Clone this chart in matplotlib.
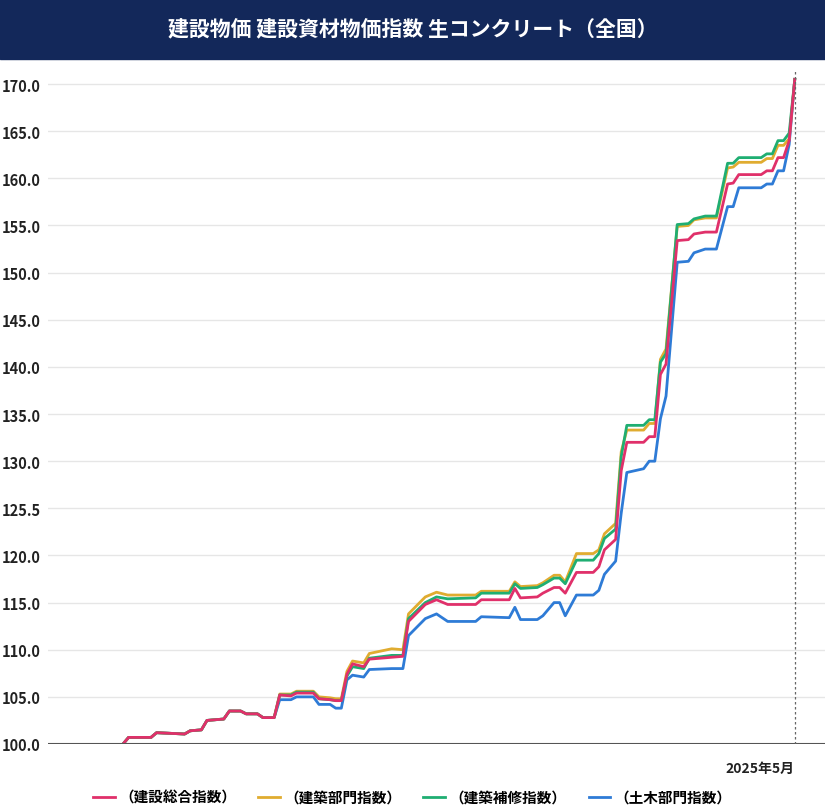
import matplotlib
matplotlib.use("Agg")
import matplotlib.pyplot as plt

plt.rcParams["font.family"] = ["Noto Sans CJK JP", "DejaVu Sans"]

title = "建設物価 建設資材物価指数 生コンクリート（全国）"
series_names = ["（建設総合指数）", "（建築部門指数）", "（建築補修指数）", "（土木部門指数）"]
colors = ["#e0306a", "#e0ac30", "#1fae72", "#2e7bd6"]
ytick_vals = [100, 105, 110, 115, 120, 125, 130, 135, 140, 145, 150, 155, 160, 165, 170]
ytick_labels = ["100.0", "105.0", "110.0", "115.0", "120.0", "125.5", "130.0", "135.0", "140.0",
                "145.0", "150.0", "155.0", "160.0", "165.0", "170.0"]
end_label = "2025年5月"

months = [0, 1, 5, 6, 11, 12, 14, 15, 18, 19, 21, 22, 24, 25, 27, 28, 30, 31, 34, 35, 37, 38, 39,
          40, 41, 43, 44, 48, 50, 51, 54, 56, 58, 63, 64, 69, 70, 71, 74, 75, 77, 78, 79, 81, 84,
          85, 86, 88, 89, 90, 93, 94, 95, 96, 97, 99, 101, 102, 104, 106, 108, 109, 110, 114,
          115, 116, 117, 118, 119, 120]
common = [100, 100.7, 100.7, 101.2, 101.06, 101.4, 101.5, 102.5, 102.65, 103.5, 103.5, 103.2,
          103.2, 102.8, 102.8]
sogo = common + [105.2, 105.1, 105.4, 105.4, 104.8, 104.7, 104.6, 104.6,
                 107.4, 108.5, 108.2, 109.0, 109.2, 109.3, 113.0, 114.8, 115.3, 114.8, 114.8, 115.3,
                 115.3, 116.5, 115.5, 115.6, 116.0, 116.6, 116.6, 116.0, 118.2, 118.2,
                 118.8, 120.6, 121.7, 129.0, 132.0, 132.0, 132.6, 132.6, 139.2, 140.3, 153.4, 153.5,
                 154.1, 154.3, 154.3, 159.4, 159.5, 160.4, 160.4, 160.8, 160.8, 162.2, 162.2, 164.0, 170.5]
kenchiku = common + [105.3, 105.3, 105.6, 105.6, 105.0, 104.9, 104.8, 104.8,
                     107.7, 108.8, 108.6, 109.6, 110.1, 110.0, 113.8, 115.6, 116.1, 115.8, 115.8, 116.2,
                     116.2, 117.2, 116.7, 116.8, 117.1, 117.9, 117.9, 117.2, 120.2, 120.2,
                     120.6, 122.3, 123.4, 131.0, 133.3, 133.3, 134.0, 134.0, 140.8, 141.9, 154.9, 155.0,
                     155.6, 155.8, 155.8, 161.1, 161.2, 161.7, 161.7, 162.1, 162.1, 163.5, 163.5, 164.2, 170.5]
hoshu = common + [105.2, 105.2, 105.5, 105.5, 104.8, 104.7, 104.6, 104.6,
                  107.2, 108.2, 108.0, 109.1, 109.4, 109.4, 113.3, 115.0, 115.6, 115.4, 115.5, 116.0,
                  116.0, 117.0, 116.5, 116.6, 116.9, 117.6, 117.6, 117.0, 119.5, 119.5,
                  120.2, 121.8, 122.8, 130.5, 133.8, 133.8, 134.4, 134.4, 140.5, 141.4, 155.1, 155.2,
                  155.7, 156.0, 156.0, 161.6, 161.6, 162.2, 162.2, 162.6, 162.6, 164.0, 164.0, 164.8, 170.5]
doboku = common + [104.7, 104.7, 105.0, 105.0, 104.2, 104.2, 103.8, 103.8,
                   106.8, 107.3, 107.1, 107.9, 108.0, 108.0, 111.5, 113.3, 113.8, 113.0, 113.0, 113.5,
                   113.4, 114.5, 113.2, 113.2, 113.6, 115.0, 115.0, 113.6, 115.8, 115.8,
                   116.3, 118.0, 119.4, 124.5, 128.8, 129.2, 130.0, 130.0, 134.5, 136.9, 151.1, 151.2,
                   152.1, 152.5, 152.5, 157.0, 157.0, 159.0, 159.0, 159.4, 159.4, 160.8, 160.8, 163.6, 170.5]

fig = plt.figure(figsize=(8.25, 8.12), dpi=100)
fig.patches.append(plt.Rectangle((0, 1 - 60 / 812), 1, 60 / 812, transform=fig.transFigure,
                                 color="#13285a", zorder=0))
fig.text(0.5, 1 - 30 / 812, title, color="white", fontsize=15, fontweight="bold",
         ha="center", va="center")

ax = fig.add_axes([48 / 825, 67 / 812, 777 / 825, 675 / 812])
for s, c in zip([doboku, kenchiku, hoshu, sogo], [colors[3], colors[1], colors[2], colors[0]]):
    ax.plot(months, s, color=c, lw=2)
ax.set_xlim(-13.4, 125.4)
ax.set_ylim(100, 171.6)
ax.set_yticks(ytick_vals)
ax.set_yticklabels(ytick_labels, fontsize=10.5, fontweight="bold", color="#222222")
for t in ax.get_yticklabels():
    t.set_horizontalalignment("left")
ax.tick_params(axis="y", length=0, pad=33)
ax.set_xticks([])
ax.grid(axis="y", color="#e6e6e6", lw=1)
ax.set_axisbelow(True)
for sp in ax.spines.values():
    sp.set_visible(False)
ax.axhline(100, color="#555555", lw=1.5)
ax.axvline(months[-1], color="#666666", lw=0.9, ls=(0, (2, 2)))
ax.text(months[-1], 98.2, end_label, ha="right", va="top", fontsize=10, fontweight="bold", color="#222222")

handles = [plt.Line2D([], [], color=c, lw=2) for c in colors]
fig.legend(handles, series_names, loc="center", bbox_to_anchor=(0.5, 14 / 812), ncol=4,
           frameon=False, handlelength=1.5, columnspacing=1.5, handletextpad=0.3,
           prop={"weight": "bold", "size": 10.5})
fig.savefig("out.png", dpi=100)
